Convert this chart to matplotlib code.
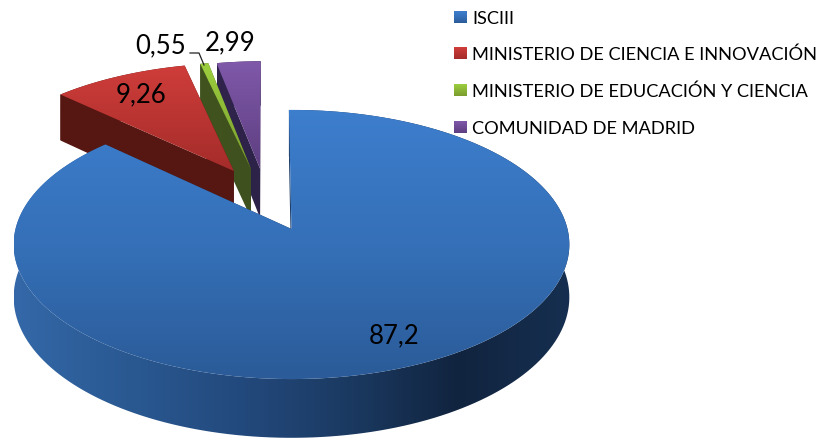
import matplotlib
matplotlib.use('Agg')
import matplotlib.pyplot as plt
from matplotlib.colors import LinearSegmentedColormap
from matplotlib.patches import Polygon
import numpy as np

labels = ['ISCIII', 'MINISTERIO DE CIENCIA E INNOVACIÓN',
          'MINISTERIO DE EDUCACIÓN Y CIENCIA', 'COMUNIDAD DE MADRID']
values = [87.2, 9.26, 0.55, 2.99]

# explode offset of each slice on the pie plane (unit = radius)
offset_u = [0.0, -0.22, -0.155, -0.12]
offset_v = [0.0, 0.46, 0.478, 0.478]

top_cols = [['#3d7ecd', '#3570b8', '#2b5b98'],
            ['#cf3d3a', '#a42c2a'],
            ['#9ccf3e', '#7a9c2e'],
            ['#8059aa', '#5d3e80']]
side_cols = [['#3468a8', '#2a5992', '#234a7e', '#1b3a62', '#11243f', '#162f50'],
             ['#561712', '#561712'],
             ['#41541f', '#3e501e'],
             ['#30244c', '#2d2248']]
label_xy = [(394, 336), (141, 95), (161, 46), (230, 43)]

# fake 3d: perspective projection of the pie plane into pixels
cx, cy = 291.5, 230
a, b, k = 276, 132.8, 0.115
depth = 52
rotation = np.radians(-0.6)


def project(u, v, h=0):
    d = 1 + k * v
    return cx + a * u / d, cy - (b * v + h) / d


zo = [1]


def fill(pts, stops, horizontal=False):
    pts = np.array(pts)
    x0, x1 = pts[:, 0].min(), pts[:, 0].max()
    y0, y1 = pts[:, 1].min(), pts[:, 1].max()
    cmap = LinearSegmentedColormap.from_list('g', stops)
    grad = np.linspace(0, 1, 256)
    grad = grad[None, :] if horizontal else grad[:, None]
    zo[0] += 1
    im = ax.imshow(grad, cmap=cmap, extent=(x0, x1, y1, y0), aspect='auto',
                   zorder=zo[0], interpolation='bilinear')
    im.set_clip_path(Polygon(pts, closed=True, transform=ax.transData))


fig, ax = plt.subplots(figsize=(8.23, 4.39), dpi=100)
fig.subplots_adjust(0, 0, 1, 1)
ax.set_xlim(0, 823)
ax.set_ylim(439, 0)
ax.set_autoscale_on(False)
ax.axis('off')

plt.rcParams['font.family'] = ['Lato', 'DejaVu Sans']

# start/end angle of the slices, clockwise from the top
ends = np.cumsum(values) / np.sum(values) * 2 * np.pi + rotation
starts = np.concatenate([[rotation], ends[:-1]])

# back slices first, the big one goes over them
for i in [3, 2, 1, 0]:
    t = np.linspace(starts[i], ends[i], 200)
    u0, v0 = offset_u[i], offset_v[i]
    us, vs = u0 + np.sin(t), v0 + np.cos(t)

    rim = [project(p, q) for p, q in zip(us, vs)]
    rim_low = [project(p, q, -depth) for p, q in zip(us, vs)]
    apex = project(u0, v0)
    apex_low = project(u0, v0, -depth)

    # outer wall, then the two cut faces, then the top
    fill(rim + rim_low[::-1], side_cols[i], horizontal=True)
    fill([apex, apex_low, rim_low[0], rim[0]], ['#1f3f68', '#1f3f68'] if i == 0 else side_cols[i], horizontal=True)
    fill([apex, apex_low, rim_low[-1], rim[-1]], side_cols[i], horizontal=True)
    fill([apex] + rim, top_cols[i])

# leader line of the 0,55 label
zo[0] += 1
ax.plot([190, 199, 204], [54, 54, 66], color='#222222', lw=0.9, zorder=zo[0])

for v, (x, y) in zip(values, label_xy):
    ax.text(x, y, str(v).replace('.', ','), ha='center', va='center', fontsize=18.5,
            color='black', zorder=zo[0] + 1)

legend_y = [18, 54, 91, 128]
for lab, y, cols in zip(labels, legend_y, top_cols):
    fill([(454, y - 6), (467, y - 6), (467, y + 6), (454, y + 6)], cols)
    ax.text(472.5, y + 1, lab, ha='left', va='center', fontsize=13.15, color='black', zorder=zo[0] + 1)

fig.savefig('out.png', dpi=100)
